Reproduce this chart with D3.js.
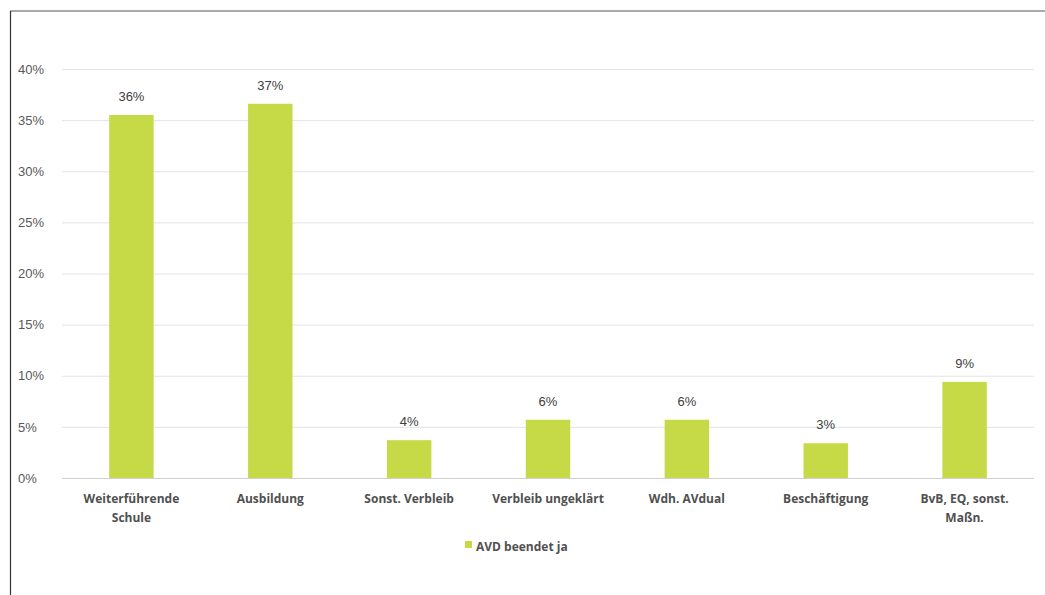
<!DOCTYPE html>
<html>
<head>
<meta charset="utf-8">
<script src="https://cdn.jsdelivr.net/npm/d3@7"></script>
<style>
  body { margin: 0; background: #fff; }
  svg { display: block; }
</style>
</head>
<body>
<svg id="chart"></svg>
<script>
// Chart data
const categories = [
    ["Weiterführende", "Schule"],
    ["Ausbildung"],
    ["Sonst. Verbleib"],
    ["Verbleib ungeklärt"],
    ["Wdh. AVdual"],
    ["Beschäftigung"],
    ["BvB, EQ, sonst.", "Maßn."]
];
const values = [35.5, 36.6, 3.7, 5.7, 5.7, 3.4, 9.4];
const valueLabels = ["36%", "37%", "4%", "6%", "6%", "3%", "9%"];
const yTicks = [0, 5, 10, 15, 20, 25, 30, 35, 40];
const seriesName = "AVD beendet ja";

const width = 1045, height = 595;
const margin = { top: 69, right: 11, bottom: 117, left: 62 };
const barColor = "#c6da47";

const svg = d3.select("#chart")
    .attr("width", width)
    .attr("height", height);

// Frame lines (top and left edge of the screenshot)
svg.append("line")
    .attr("x1", 10).attr("x2", width).attr("y1", 11).attr("y2", 11)
    .attr("stroke", "#555").attr("stroke-width", 1.2);
svg.append("line")
    .attr("x1", 10.5).attr("x2", 10.5).attr("y1", 11).attr("y2", height)
    .attr("stroke", "#333").attr("stroke-width", 1.2);

const x = d3.scaleBand()
    .domain(d3.range(categories.length))
    .range([margin.left, width - margin.right])
    .paddingInner(0.68)
    .paddingOuter(0.34);

const y = d3.scaleLinear()
    .domain([0, 40])
    .range([height - margin.bottom, margin.top]);

// Gridlines
svg.append("g")
    .selectAll("line")
    .data(yTicks)
    .enter()
    .append("line")
    .attr("x1", margin.left)
    .attr("x2", width - margin.right)
    .attr("y1", d => y(d) + 0.5)
    .attr("y2", d => y(d) + 0.5)
    .attr("stroke", d => d === 0 ? "#d0d0d0" : "#e4e4e4")
    .attr("stroke-width", 1);

// Y axis labels
const yAxis = d3.axisLeft(y)
    .tickValues(yTicks)
    .tickFormat(d => d + "%")
    .tickSize(0)
    .tickPadding(0);
svg.append("g")
    .attr("transform", `translate(${margin.left - 14},0)`)
    .call(yAxis)
    .call(g => g.select(".domain").remove())
    .selectAll("text")
    .attr("x", -30)
    .attr("text-anchor", "start")
    .style("font-family", "Liberation Sans, Arial, sans-serif")
    .style("font-size", "13px")
    .style("fill", "#595959");

// Bars
svg.append("g")
    .selectAll("rect")
    .data(values)
    .enter()
    .append("rect")
    .attr("x", (d, i) => x(i))
    .attr("y", d => y(d))
    .attr("width", x.bandwidth())
    .attr("height", d => y(0) - y(d))
    .attr("fill", barColor);

// Value labels
svg.append("g")
    .selectAll("text")
    .data(values)
    .enter()
    .append("text")
    .attr("x", (d, i) => x(i) + x.bandwidth() / 2)
    .attr("y", d => y(d) - 14)
    .attr("text-anchor", "middle")
    .style("font-family", "Liberation Sans, Arial, sans-serif")
    .style("font-size", "13px")
    .style("fill", "#404040")
    .text((d, i) => valueLabels[i]);

// Category labels
const catG = svg.append("g")
    .selectAll("text")
    .data(categories)
    .enter()
    .append("text")
    .attr("x", (d, i) => x(i) + x.bandwidth() / 2)
    .attr("y", y(0) + 25)
    .attr("text-anchor", "middle")
    .style("font-family", "Open Sans, Liberation Sans, sans-serif")
    .style("font-size", "12px")
    .style("font-weight", "bold")
    .style("fill", "#505050");

catG.selectAll("tspan")
    .data(d => d)
    .enter()
    .append("tspan")
    .attr("x", function () { return d3.select(this.parentNode).attr("x"); })
    .attr("dy", (d, i) => i === 0 ? 0 : 19)
    .text(d => d);

// Legend
const legend = svg.append("g")
    .attr("transform", "translate(480, 547)");
legend.append("rect")
    .attr("x", -15)
    .attr("y", -6)
    .attr("width", 7)
    .attr("height", 7)
    .attr("fill", barColor);
legend.append("text")
    .attr("x", -4)
    .attr("y", 1)
    .attr("dominant-baseline", "middle")
    .style("font-family", "Open Sans, Liberation Sans, sans-serif")
    .style("font-size", "12px")
    .style("font-weight", "bold")
    .style("fill", "#505050")
    .text(seriesName);
</script>
</body>
</html>
